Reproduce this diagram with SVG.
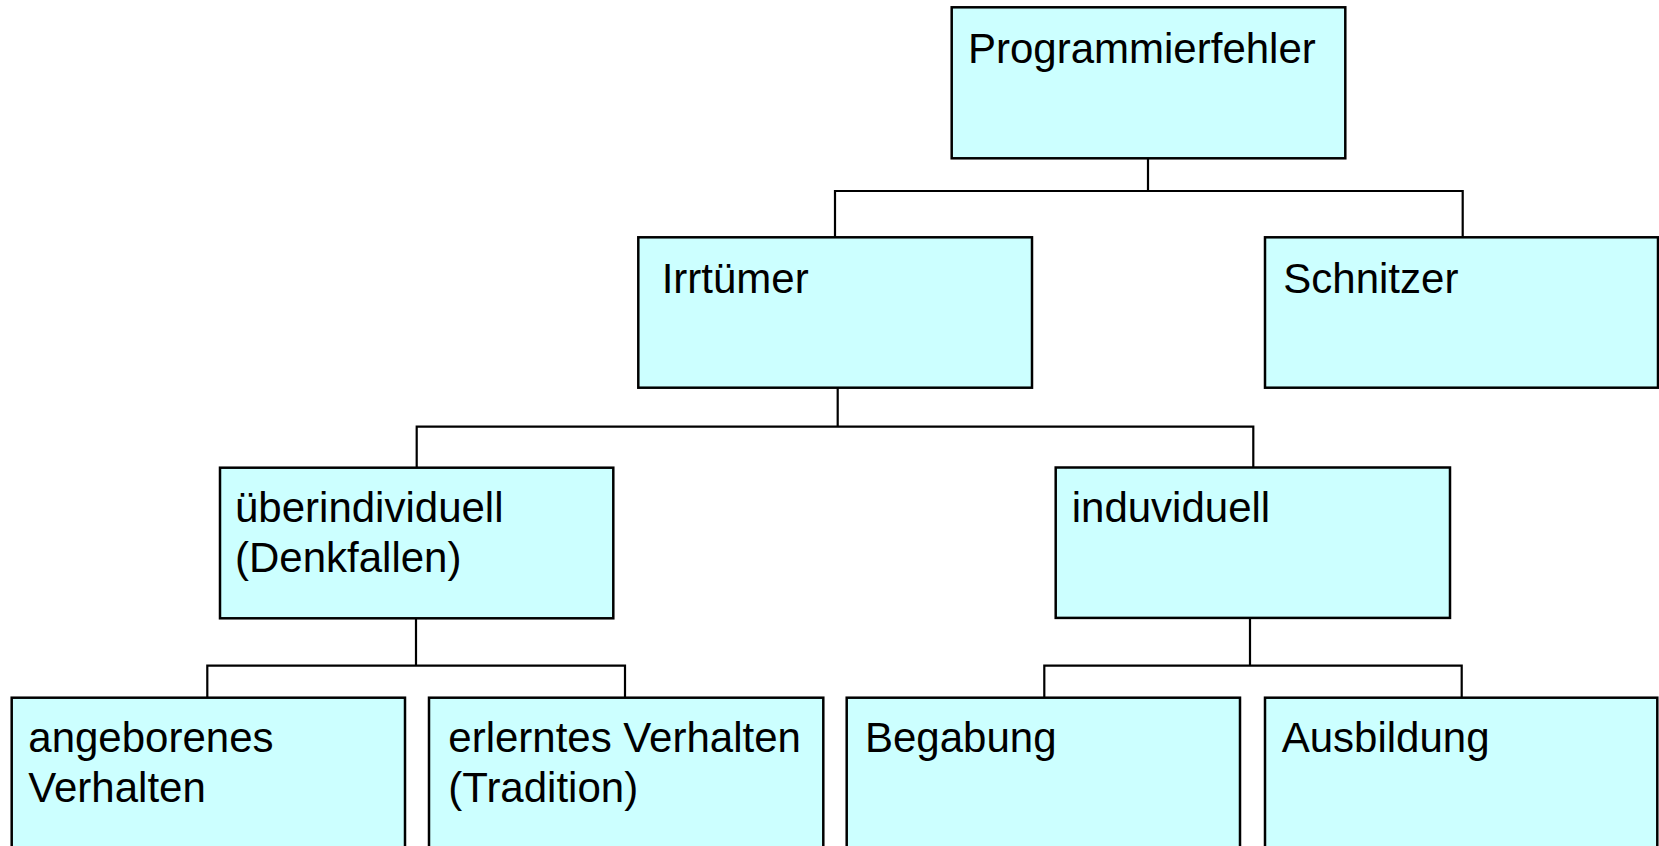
<svg xmlns="http://www.w3.org/2000/svg" width="1659" height="846" viewBox="0 0 1659 846">
<style>
.box{fill:#CCFFFF;stroke:#000;stroke-width:2.5}
.lbl{font-family:"Liberation Sans",Arial,sans-serif;font-size:42px;fill:#000}
.con{fill:none;stroke:#000;stroke-width:2.2}
</style>
<rect width="1659" height="846" fill="#fff"/>
<g id="connectors">
<path class="con" d="M1148 158 V191 M835 237 V191 H1462.7 V237"/>
<path class="con" d="M837.7 388 V426.7 M416.7 468 V426.7 H1253.3 V468"/>
<path class="con" d="M416 618 V665.7 M207.3 698 V665.7 H625 V698"/>
<path class="con" d="M1250 618 V665.7 M1044.3 698 V665.7 H1461.7 V698"/>
</g>
<g id="programmierfehler"><rect class="box" x="951.7" y="7.3" width="393.6" height="151"/><text class="lbl" x="968" y="62.7">Programmierfehler</text></g>
<g id="irrtuemer"><rect class="box" x="638.3" y="237.3" width="393.7" height="150.4"/><text class="lbl" x="661.7" y="292.7">Irrtümer</text></g>
<g id="schnitzer"><rect class="box" x="1265" y="237.3" width="393" height="150.4"/><text class="lbl" x="1283.3" y="292.7">Schnitzer</text></g>
<g id="ueberindividuell"><rect class="box" x="220" y="467.7" width="393.3" height="150.6"/><text class="lbl" x="235" y="521.7">überindividuell</text><text class="lbl" x="235" y="571.7">(Denkfallen)</text></g>
<g id="induviduell"><rect class="box" x="1055.7" y="467.5" width="394.3" height="150.4"/><text class="lbl" x="1071.7" y="521.7">induviduell</text></g>
<g id="angeborenes"><rect class="box" x="11.7" y="697.7" width="393.3" height="151"/><text class="lbl" x="28.3" y="751.7">angeborenes</text><text class="lbl" x="28.3" y="801.7">Verhalten</text></g>
<g id="erlerntes"><rect class="box" x="429" y="697.7" width="394.3" height="151"/><text class="lbl" x="448.3" y="751.7">erlerntes Verhalten</text><text class="lbl" x="448.3" y="801.7">(Tradition)</text></g>
<g id="begabung"><rect class="box" x="846.7" y="697.7" width="393.3" height="151"/><text class="lbl" x="865" y="751.7">Begabung</text></g>
<g id="ausbildung"><rect class="box" x="1265" y="697.7" width="392.3" height="151"/><text class="lbl" x="1281.7" y="751.7">Ausbildung</text></g>
</svg>
